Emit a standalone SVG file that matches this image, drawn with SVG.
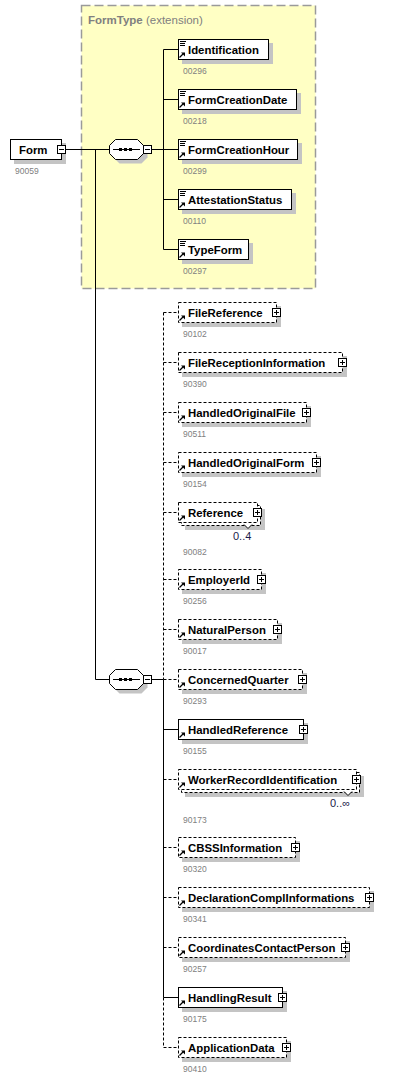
<svg xmlns="http://www.w3.org/2000/svg" xmlns:xlink="http://www.w3.org/1999/xlink" width="402" height="1082" viewBox="0 0 402 1082">
<style>
.box{fill:#fff;stroke:#000;stroke-width:1}
.opt{stroke-dasharray:3 2}
.sh{fill:#c4c4c4}
.nm{font-family:"Liberation Sans",Arial,sans-serif;font-weight:bold;font-size:11.4px;fill:#000}
.id{font-family:"Liberation Sans",Arial,sans-serif;font-size:8.5px;fill:#808080}
.mult{font-family:"Liberation Sans",Arial,sans-serif;font-size:11px;fill:#1a1a4a}
.ln{stroke:#000;stroke-width:1;fill:none}
.dl{stroke-dasharray:3 2}
.chev{fill:#fff;stroke:#000;stroke-width:1}
</style>
<defs>
<g id="plus"><rect x="-4.5" y="6.5" width="8" height="8" fill="#fff" stroke="#000"/><path d="M-3,10.5H2M-0.5,8V13" stroke="#000"/></g>
<g id="minus"><rect x="-4.5" y="6.5" width="8" height="8" fill="#fff" stroke="#000"/><path d="M-3,10.5H2" stroke="#000"/></g>
<g id="arr"><path d="M179.5,18.5L183,15" stroke="#000" stroke-width="1.3"/><path d="M181,13.5H185V17.5Z" fill="#000"/></g>
<g id="lines"><path d="M180,2.5H186M180,4.5H185M180,6.5H185" stroke="#000"/></g>
<g id="seq"><polygon points="119.5,4.5 141.5,4.5 147.5,10.5 147.5,18.5 141.5,24.5 119.5,24.5 113.5,18.5 113.5,10.5" fill="#c4c4c4"/><polygon points="115.5,0.5 137.5,0.5 143.5,6.5 143.5,14.5 137.5,20.5 115.5,20.5 109.5,14.5 109.5,6.5" fill="#fff" stroke="#000"/><path d="M113,10.5H140" stroke="#000"/><rect x="119" y="9" width="3" height="3"/><rect x="124" y="9" width="3" height="3"/><rect x="129" y="9" width="3" height="3"/><use xlink:href="#minus" x="148" y="0"/></g>
</defs>
<rect x="0" y="0" width="402" height="1082" fill="#fff"/>

<g id="FormType">
<rect x="81.5" y="5.5" width="234" height="283" fill="#ffffc4" stroke="#9a9a9a" stroke-width="1.5" stroke-dasharray="9 4"/>
<text x="88" y="24" font-family="Liberation Sans,Arial,sans-serif" font-size="11.5" fill="#808080"><tspan font-weight="bold">FormType</tspan> (extension)</text>
</g>

<g id="connectors">
<path class="ln" d="M66,149.5H109M95.5,149.5V679.5H109"/>
<path class="ln" d="M152,149.5H163.5M163.5,49.5V249.5M163.5,49.5H178M163.5,99.5H178M163.5,149.5H178M163.5,199.5H178M163.5,249.5H178"/>
<path class="ln" d="M152,679.5H163.5M163.5,679.5V997.5M163.5,729.5H178M163.5,997.5H178"/>
<path class="ln dl" d="M163.5,312.5V679.5M163.5,997.5V1047.5"/>
<path class="ln dl" d="M163.5,312.5H178M163.5,362.5H178M163.5,412.5H178M163.5,462.5H178M163.5,512.5H178M163.5,579.5H178M163.5,629.5H178M163.5,679.5H178M163.5,779.5H178M163.5,847.5H178M163.5,897.5H178M163.5,947.5H178M163.5,1047.5H178"/>
</g>

<g id="Form">
<rect class="sh" x="14" y="143" width="52" height="21"/>
<rect class="box" x="10.5" y="139.5" width="51" height="20"/>
<text class="nm" x="19" y="153.5">Form</text>
<use xlink:href="#minus" x="62" y="139"/>
<text class="id" x="15" y="174">90059</text>
</g>

<g id="seq1"><use xlink:href="#seq" x="0" y="139"/></g>
<g id="seq2"><use xlink:href="#seq" x="0" y="669"/></g>

<g id="Identification">
<rect class="sh" x="182" y="43" width="91" height="21"/>
<rect class="box" x="178.5" y="39.5" width="90" height="20"/>
<use xlink:href="#lines" x="0" y="39"/><use xlink:href="#arr" x="0" y="39"/>
<text class="nm" x="188" y="53.5">Identification</text>
<text class="id" x="183" y="74">00296</text>
</g>
<g id="FormCreationDate">
<rect class="sh" x="182" y="93" width="119" height="21"/>
<rect class="box" x="178.5" y="89.5" width="118" height="20"/>
<use xlink:href="#lines" x="0" y="89"/><use xlink:href="#arr" x="0" y="89"/>
<text class="nm" x="188" y="103.5">FormCreationDate</text>
<text class="id" x="183" y="124">00218</text>
</g>
<g id="FormCreationHour">
<rect class="sh" x="182" y="143" width="120" height="21"/>
<rect class="box" x="178.5" y="139.5" width="119" height="20"/>
<use xlink:href="#lines" x="0" y="139"/><use xlink:href="#arr" x="0" y="139"/>
<text class="nm" x="188" y="153.5">FormCreationHour</text>
<text class="id" x="183" y="174">00299</text>
</g>
<g id="AttestationStatus">
<rect class="sh" x="182" y="193" width="114" height="21"/>
<rect class="box" x="178.5" y="189.5" width="113" height="20"/>
<use xlink:href="#lines" x="0" y="189"/><use xlink:href="#arr" x="0" y="189"/>
<text class="nm" x="188" y="203.5">AttestationStatus</text>
<text class="id" x="183" y="224">00110</text>
</g>
<g id="TypeForm">
<rect class="sh" x="182" y="243" width="71" height="21"/>
<rect class="box" x="178.5" y="239.5" width="70" height="20"/>
<use xlink:href="#lines" x="0" y="239"/><use xlink:href="#arr" x="0" y="239"/>
<text class="nm" x="188" y="253.5">TypeForm</text>
<text class="id" x="183" y="274">00297</text>
</g>

<g id="FileReference">
<rect class="sh" x="182" y="306" width="99" height="21"/>
<rect class="box opt" x="178.5" y="302.5" width="98" height="20"/>
<use xlink:href="#arr" x="0" y="302"/>
<text class="nm" x="188" y="316.5">FileReference</text>
<use xlink:href="#plus" x="277" y="302"/>
<text class="id" x="183" y="337">90102</text>
</g>
<g id="FileReceptionInformation">
<rect class="sh" x="182" y="356" width="165" height="21"/>
<rect class="box opt" x="178.5" y="352.5" width="164" height="20"/>
<use xlink:href="#arr" x="0" y="352"/>
<text class="nm" x="188" y="366.5">FileReceptionInformation</text>
<use xlink:href="#plus" x="343" y="352"/>
<text class="id" x="183" y="387">90390</text>
</g>
<g id="HandledOriginalFile">
<rect class="sh" x="182" y="406" width="129" height="21"/>
<rect class="box opt" x="178.5" y="402.5" width="128" height="20"/>
<use xlink:href="#arr" x="0" y="402"/>
<text class="nm" x="188" y="416.5">HandledOriginalFile</text>
<use xlink:href="#plus" x="307" y="402"/>
<text class="id" x="183" y="437">90511</text>
</g>
<g id="HandledOriginalForm">
<rect class="sh" x="182" y="456" width="139" height="21"/>
<rect class="box opt" x="178.5" y="452.5" width="138" height="20"/>
<use xlink:href="#arr" x="0" y="452"/>
<text class="nm" x="188" y="466.5">HandledOriginalForm</text>
<use xlink:href="#plus" x="317" y="452"/>
<text class="id" x="183" y="487">90154</text>
</g>
<g id="Reference">
<rect class="sh" x="185" y="509" width="80" height="21"/>
<rect class="box opt" x="181.5" y="505.5" width="79" height="20"/>
<rect class="box opt" x="178.5" y="502.5" width="79" height="20"/>
<use xlink:href="#arr" x="0" y="502"/>
<text class="nm" x="188" y="516.5">Reference</text>
<use xlink:href="#plus" x="258" y="502"/>
<polyline class="chev" points="244,524.5 248,528.5 252,524.5"/>
<text class="mult" x="233" y="540">0..4</text>
<text class="id" x="183" y="555">90082</text>
</g>
<g id="EmployerId">
<rect class="sh" x="182" y="573" width="84" height="21"/>
<rect class="box opt" x="178.5" y="569.5" width="83" height="20"/>
<use xlink:href="#arr" x="0" y="569"/>
<text class="nm" x="188" y="583.5">EmployerId</text>
<use xlink:href="#plus" x="262" y="569"/>
<text class="id" x="183" y="604">90256</text>
</g>
<g id="NaturalPerson">
<rect class="sh" x="182" y="623" width="100" height="21"/>
<rect class="box opt" x="178.5" y="619.5" width="99" height="20"/>
<use xlink:href="#arr" x="0" y="619"/>
<text class="nm" x="188" y="633.5">NaturalPerson</text>
<use xlink:href="#plus" x="278" y="619"/>
<text class="id" x="183" y="654">90017</text>
</g>
<g id="ConcernedQuarter">
<rect class="sh" x="182" y="673" width="125" height="21"/>
<rect class="box opt" x="178.5" y="669.5" width="124" height="20"/>
<use xlink:href="#arr" x="0" y="669"/>
<text class="nm" x="188" y="683.5">ConcernedQuarter</text>
<use xlink:href="#plus" x="303" y="669"/>
<text class="id" x="183" y="704">90293</text>
</g>
<g id="HandledReference">
<rect class="sh" x="182" y="723" width="126" height="21"/>
<rect class="box" x="178.5" y="719.5" width="125" height="20"/>
<use xlink:href="#arr" x="0" y="719"/>
<text class="nm" x="188" y="733.5">HandledReference</text>
<use xlink:href="#plus" x="304" y="719"/>
<text class="id" x="183" y="754">90155</text>
</g>
<g id="WorkerRecordIdentification">
<rect class="sh" x="185" y="776" width="179" height="21"/>
<rect class="box opt" x="181.5" y="772.5" width="178" height="20"/>
<rect class="box opt" x="178.5" y="769.5" width="178" height="20"/>
<use xlink:href="#arr" x="0" y="769"/>
<text class="nm" x="188" y="783.5">WorkerRecordIdentification</text>
<use xlink:href="#plus" x="357" y="769"/>
<polyline class="chev" points="344,791.5 348,795.5 352,791.5"/>
<text class="mult" x="330" y="807">0..∞</text>
<text class="id" x="183" y="823">90173</text>
</g>
<g id="CBSSInformation">
<rect class="sh" x="182" y="841" width="118" height="21"/>
<rect class="box opt" x="178.5" y="837.5" width="117" height="20"/>
<use xlink:href="#arr" x="0" y="837"/>
<text class="nm" x="188" y="851.5">CBSSInformation</text>
<use xlink:href="#plus" x="296" y="837"/>
<text class="id" x="183" y="872">90320</text>
</g>
<g id="DeclarationComplInformations">
<rect class="sh" x="182" y="891" width="192" height="21"/>
<rect class="box opt" x="178.5" y="887.5" width="191" height="20"/>
<use xlink:href="#arr" x="0" y="887"/>
<text class="nm" x="188" y="901.5">DeclarationComplInformations</text>
<use xlink:href="#plus" x="370" y="887"/>
<text class="id" x="183" y="922">90341</text>
</g>
<g id="CoordinatesContactPerson">
<rect class="sh" x="182" y="941" width="168" height="21"/>
<rect class="box opt" x="178.5" y="937.5" width="167" height="20"/>
<use xlink:href="#arr" x="0" y="937"/>
<text class="nm" x="188" y="951.5">CoordinatesContactPerson</text>
<use xlink:href="#plus" x="346" y="937"/>
<text class="id" x="183" y="972">90257</text>
</g>
<g id="HandlingResult">
<rect class="sh" x="182" y="991" width="105" height="21"/>
<rect class="box" x="178.5" y="987.5" width="104" height="20"/>
<use xlink:href="#arr" x="0" y="987"/>
<text class="nm" x="188" y="1001.5">HandlingResult</text>
<use xlink:href="#plus" x="283" y="987"/>
<text class="id" x="183" y="1022">90175</text>
</g>
<g id="ApplicationData">
<rect class="sh" x="182" y="1041" width="109" height="21"/>
<rect class="box opt" x="178.5" y="1037.5" width="108" height="20"/>
<use xlink:href="#arr" x="0" y="1037"/>
<text class="nm" x="188" y="1051.5">ApplicationData</text>
<use xlink:href="#plus" x="287" y="1037"/>
<text class="id" x="183" y="1072">90410</text>
</g>
</svg>
